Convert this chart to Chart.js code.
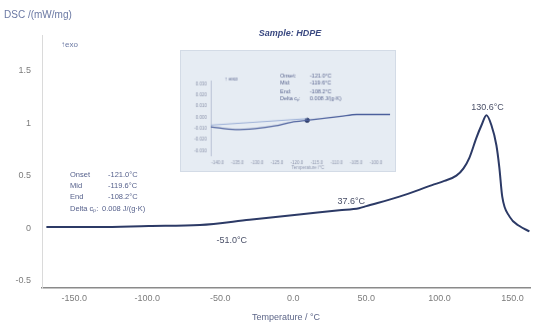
<!DOCTYPE html>
<html>
<head>
<meta charset="utf-8">
<script src="https://cdn.jsdelivr.net/npm/chart.js@4/dist/chart.umd.min.js"></script>
<style>
  body { margin: 0; background: #fff; }
  #wrap { position: relative; width: 547px; height: 327px; }
  #inset { position: absolute; left: 180px; top: 50px; background: #e6ecf3; border: 1px solid #d3dbe6; }
</style>
</head>
<body>
<div id="wrap">
  <canvas id="myChart" width="547" height="327"></canvas>
  <canvas id="inset" width="216" height="122"></canvas>
</div>
<script>
// main DSC curve
const tempC = [-169, -133, -99, -64, -30, 4, 31.5, 45, 50, 72.6, 95, 103.4, 111.6, 116.5, 120.5, 125.3, 128.8, 132.2, 135.6, 139, 141, 143, 148, 154.8, 161.6];
const dsc = [0.01, 0.01, 0.02, 0.03, 0.08, 0.13, 0.17, 0.19, 0.21, 0.30, 0.41, 0.45, 0.50, 0.57, 0.67, 0.86, 0.98, 1.075, 0.98, 0.79, 0.58, 0.30, 0.11, 0.02, -0.03];
const xTicks = [-150, -100, -50, 0, 50, 100, 150];
const xTickLabels = ['-150.0', '-100.0', '-50.0', '0.0', '50.0', '100.0', '150.0'];
const yTicks = [-0.5, 0, 0.5, 1, 1.5];
const yTickLabels = ['-0.5', '0', '0.5', '1', '1.5'];

// marked temperatures
const peakLabels = ['-51.0°C', '37.6°C', '130.6°C'];
const peakTemps = [-51.0, 37.6, 132.2];
const peakValues = [0.055, 0.18, 1.075];

// glass transition results
const resultNames = ['Onset', 'Mid', 'End', 'Delta cₚ:'];
const resultValues = ['-121.0°C', '-119.6°C', '-108.2°C', '0.008 J/(g·K)'];

// inset (glass transition zoom)
const insetTemp = [-141.7, -135.5, -130.5, -125.6, -121.3, -117.4, -113.1, -108.9, -104.9, -96.5];
const insetDsc = [-0.0085, -0.011, -0.010, -0.0077, -0.0043, -0.0026, -0.0009, 0.0009, 0.0026, 0.0026];
const insetTangentTemp = [-141.7, -117.4];
const insetTangentDsc = [-0.0070, -0.0012];
const insetMidTemp = [-117.4];
const insetMidDsc = [-0.0026];
const insetXTicks = [-140, -135, -130, -125, -120, -115, -110, -105, -100];
const insetYTicks = [-0.03, -0.02, -0.01, 0, 0.01, 0.02, 0.03];

const FONT = 'Liberation Sans, Arial, sans-serif';

function toPoints(xs, ys) {
  return xs.map((x, i) => ({ x: x, y: ys[i] }));
}

const textPlugin = {
  id: 'texts',
  afterDraw(chart) {
    const ctx = chart.ctx;
    const xs = chart.scales.x, ys = chart.scales.y;
    ctx.save();
    ctx.textBaseline = 'middle';

    ctx.fillStyle = '#6a78a3';
    ctx.font = '10px ' + FONT;
    ctx.textAlign = 'left';
    ctx.fillText('DSC /(mW/mg)', 4, 15);

    ctx.font = '8px ' + FONT;
    ctx.fillText('↑exo', 61, 45);

    ctx.fillStyle = '#3b4a82';
    ctx.font = 'italic bold 9px ' + FONT;
    ctx.textAlign = 'center';
    ctx.fillText('Sample: HDPE', 290, 34);

    // peak labels
    ctx.fillStyle = '#4a5068';
    ctx.font = '9px ' + FONT;
    const offsets = [[13, 18], [3, -8], [1, -8]];
    peakLabels.forEach((t, i) => {
      const px = xs.getPixelForValue(peakTemps[i]) + offsets[i][0];
      const py = ys.getPixelForValue(peakValues[i]) + offsets[i][1];
      ctx.fillText(t, px, py);
    });

    // results box
    ctx.fillStyle = '#56618c';
    ctx.font = '7.5px ' + FONT;
    ctx.textAlign = 'left';
    const rowY = [175, 186, 197, 209];
    resultNames.forEach((n, i) => {
      ctx.fillText(n, 70, rowY[i]);
      ctx.fillText(resultValues[i], i === 3 ? 102 : 108, rowY[i]);
    });
    ctx.restore();
  }
};

new Chart(document.getElementById('myChart'), {
  type: 'line',
  data: {
    datasets: [{
      data: toPoints(tempC, dsc),
      borderColor: '#2c3a66',
      borderWidth: 2,
      pointRadius: 0,
      cubicInterpolationMode: 'monotone',
      fill: false
    }]
  },
  options: {
    responsive: false,
    animation: false,
    devicePixelRatio: 1,
    layout: { padding: { top: 35, right: 17, left: 0, bottom: 0 } },
    plugins: { legend: { display: false }, tooltip: { enabled: false } },
    scales: {
      x: {
        type: 'linear',
        min: -172,
        max: 162,
        afterBuildTicks: s => { s.ticks = xTicks.map(v => ({ value: v })); },
        afterFit: s => { s.height = 39; },
        ticks: {
          color: '#7c7c7c',
          font: { size: 9, family: FONT },
          padding: 5,
          callback: (v) => xTickLabels[xTicks.indexOf(v)]
        },
        grid: { display: true, drawOnChartArea: false, drawTicks: false },
        border: { display: true, color: '#8a8a8a', width: 1.5 },
        title: {
          display: true,
          text: 'Temperature / °C',
          color: '#5d6688',
          font: { size: 9, family: FONT },
          padding: { top: 0, bottom: 4 }
        }
      },
      y: {
        type: 'linear',
        min: -0.57,
        max: 1.84,
        afterBuildTicks: s => { s.ticks = yTicks.map(v => ({ value: v })); },
        afterFit: s => { s.width = 42; },
        ticks: {
          color: '#7c7c7c',
          font: { size: 9, family: FONT },
          padding: 11,
          callback: (v) => yTickLabels[yTicks.indexOf(v)]
        },
        grid: { display: true, drawOnChartArea: false, drawTicks: false },
        border: { display: true, color: '#dadada', width: 1 }
      }
    }
  },
  plugins: [textPlugin]
});

const insetTextPlugin = {
  id: 'insetTexts',
  afterDraw(chart) {
    const ctx = chart.ctx;
    ctx.save();
    ctx.textBaseline = 'middle';
    ctx.textAlign = 'left';
    ctx.fillStyle = '#56618c';
    ctx.font = '5.5px ' + FONT;
    const rowY = [25, 32, 41, 48];
    ['Onset:', 'Mid:', 'End:', 'Delta cₚ:'].forEach((n, i) => {
      ctx.fillText(n, 100, rowY[i]);
      ctx.fillText(resultValues[i], 130, rowY[i]);
    });
    ctx.fillText('↑ exo', 44, 28);
    ctx.textAlign = 'center';
    ctx.fillStyle = '#9098b0';
    ctx.font = '4.5px ' + FONT;
    ctx.fillText('Temperature /°C', 128, 119);
    ctx.restore();
  }
};

new Chart(document.getElementById('inset'), {
  type: 'line',
  data: {
    datasets: [
      {
        data: toPoints(insetTemp, insetDsc),
        borderColor: '#4b5f9c',
        borderWidth: 1.3,
        pointRadius: 0,
        cubicInterpolationMode: 'monotone'
      },
      {
        data: toPoints(insetTangentTemp, insetTangentDsc),
        borderColor: '#9aaed6',
        borderWidth: 1,
        pointRadius: 0
      },
      {
        data: toPoints(insetMidTemp, insetMidDsc),
        borderColor: '#2c3a66',
        backgroundColor: '#2c3a66',
        pointRadius: 2.2,
        showLine: false
      }
    ]
  },
  options: {
    responsive: false,
    animation: false,
    devicePixelRatio: 1,
    layout: { padding: { top: 30, right: 5, left: 0, bottom: 0 } },
    plugins: { legend: { display: false }, tooltip: { enabled: false } },
    scales: {
      x: {
        type: 'linear',
        min: -141.7,
        max: -96.5,
        afterBuildTicks: s => { s.ticks = insetXTicks.map(v => ({ value: v })); },
        afterFit: s => { s.height = 16; },
        ticks: {
          color: '#8a92aa',
          font: { size: 4.5, family: FONT },
          padding: 5,
          maxRotation: 0,
          autoSkip: false,
          callback: v => v.toFixed(1)
        },
        grid: { display: true, drawOnChartArea: false, drawTicks: false },
        border: { display: false }
      },
      y: {
        type: 'linear',
        min: -0.034,
        max: 0.033,
        afterBuildTicks: s => { s.ticks = insetYTicks.map(v => ({ value: v })); },
        afterFit: s => { s.width = 30; },
        ticks: {
          color: '#8a92aa',
          font: { size: 4.5, family: FONT },
          padding: 4,
          autoSkip: false,
          callback: v => v.toFixed(3)
        },
        grid: { display: true, drawOnChartArea: false, drawTicks: false },
        border: { display: true, color: '#b8c2d4', width: 1 }
      }
    }
  },
  plugins: [insetTextPlugin]
});
</script>
</body>
</html>
